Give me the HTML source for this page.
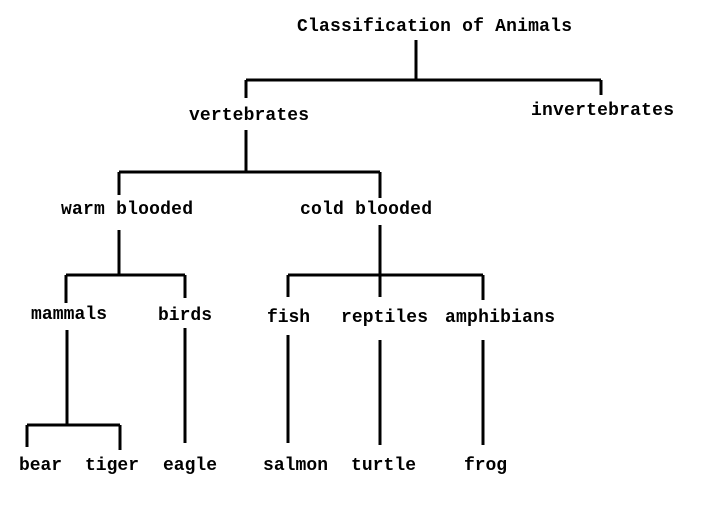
<!DOCTYPE html>
<html><head><meta charset="utf-8"><style>
html,body{margin:0;padding:0;background:#fff;}
svg text{font-family:"Liberation Mono",monospace;font-weight:bold;font-size:18px;fill:#000;dominant-baseline:middle;}
</style></head><body>
<svg width="710" height="500" viewBox="0 0 710 500">
<g stroke="#000" stroke-width="3" fill="none">
<path d="M416 40V80M246 80H601M246 80V98M601 80V95"/>
<path d="M246 130V172M119 172H380M119 172V195M380 172V198"/>
<path d="M119 230V275M66 275H185M66 275V303M185 275V298"/>
<path d="M380 225V297M288 275H483M288 275V297M483 275V300"/>
<path d="M67 330V425M27 425H120M27 425V447M120 425V450"/>
<path d="M185 328V443"/>
<path d="M288 335V443"/>
<path d="M380 340V445"/>
<path d="M483 340V445"/>
</g>
<text x="297" y="26" textLength="275">Classification of Animals</text>
<text x="189" y="115" textLength="120">vertebrates</text>
<text x="531" y="110" textLength="143">invertebrates</text>
<text x="61" y="209" textLength="132">warm blooded</text>
<text x="300" y="209" textLength="132">cold blooded</text>
<text x="31" y="314" textLength="76">mammals</text>
<text x="158" y="315" textLength="54">birds</text>
<text x="267" y="317" textLength="43">fish</text>
<text x="341" y="317" textLength="87">reptiles</text>
<text x="445" y="317" textLength="110">amphibians</text>
<text x="19" y="465" textLength="43">bear</text>
<text x="85" y="465" textLength="54">tiger</text>
<text x="163" y="465" textLength="54">eagle</text>
<text x="263" y="465" textLength="65">salmon</text>
<text x="351" y="465" textLength="65">turtle</text>
<text x="464" y="465" textLength="43">frog</text>
</svg>
</body></html>
